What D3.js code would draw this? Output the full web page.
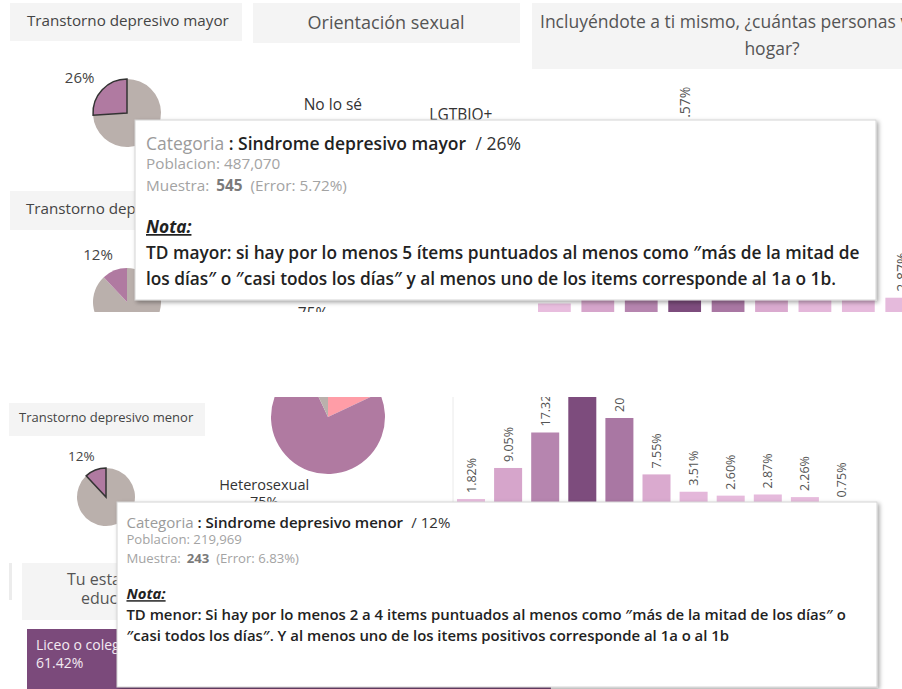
<!DOCTYPE html>
<html>
<head>
<meta charset="utf-8">
<script src="https://cdn.jsdelivr.net/npm/d3@7"></script>
<style>
  body { margin: 0; background: #fff; }
  svg { display: block; font-family: "Open Sans", Lato, sans-serif; }
</style>
</head>
<body>
<svg id="chart" width="902" height="689"></svg>
<script>
// household size distribution (bar chart, % of respondents)
const householdSizes = ["1", "2", "3", "4", "5", "6", "7", "8", "9", "10", "11+"];
const householdPct = [1.82, 9.05, 17.32, 31.57, 20.70, 7.55, 3.51, 2.60, 2.87, 2.26, 0.75];

// sexual orientation pie
const orientationCats = ["LGTBIQ+", "Heterosexual", "No lo sé"];
const orientationPct = [18, 75, 7];

// depressive disorder pies
const depressionCats = ["Transtorno depresivo mayor", "Transtorno depresivo menor"];
const depressionPct = [26, 12];

// education treemap (only the first cell shows)
const educationCats = ["Liceo o colegio"];
const educationPct = [61.42];

// tooltip texts
const tipMayor = {
  cat: "Sindrome depresivo mayor", pct: "26%", pob: "487,070", n: "545", err: "5.72%",
  nota: [
    "TD mayor: si hay por lo menos 5 ítems puntuados al menos como ″más de la mitad de",
    "los días″ o ″casi todos los días″ y al menos uno de los items corresponde al 1a o 1b."
  ]
};
const tipMenor = {
  cat: "Sindrome depresivo menor", pct: "12%", pob: "219,969", n: "243", err: "6.83%",
  nota: [
    "TD menor: Si hay por lo menos 2 a 4 items puntuados al menos como ″más de la mitad de los días″ o",
    "″casi todos los días″. Y al menos uno de los items positivos corresponde al 1a o al 1b"
  ]
};

// colors (tableau-ish)
const gray = "#bab0ac";
const purple = "#b07aa1";
const pink = "#ff9da7";
const boxFill = "#f4f4f4";
const barColor = d3.scaleLinear().domain([0, 10, 32]).range(["#ecc3e3", "#d4a2c9", "#7b4a7b"]);

const svg = d3.select("#chart");
const defs = svg.append("defs");

// soft shadow for tooltips
const shadow = defs.append("filter").attr("id", "shadow")
  .attr("x", "-5%").attr("y", "-5%").attr("width", "115%").attr("height", "120%");
shadow.append("feDropShadow").attr("dx", 2).attr("dy", 2).attr("stdDeviation", 2)
  .attr("flood-color", "#000").attr("flood-opacity", 0.35);

// each screenshot crop gets its own clipped group
const makePanel = (id, x, y, w, h) => {
  defs.append("clipPath").attr("id", id).append("rect")
    .attr("x", x).attr("y", y).attr("width", w).attr("height", h);
  return svg.append("g").attr("clip-path", `url(#${id})`);
};

const titleBox = (g, x, y, w, h) =>
  g.append("rect").attr("x", x).attr("y", y).attr("width", w).attr("height", h).attr("fill", boxFill);

const label = (g, txt, x, y, size, opts = {}) =>
  g.append("text").attr("x", x).attr("y", y).attr("font-size", size)
    .attr("fill", opts.fill || "#555").attr("text-anchor", opts.anchor || "start")
    .attr("font-weight", opts.weight || 400).text(txt);

// depression pie: grey remainder then highlighted slice ending at 12 o'clock
const depressionPie = (g, cx, cy, r, pct, outlined, fontSize) => {
  const arcs = d3.pie().sort(null)([100 - pct, pct]);
  const arc = d3.arc().innerRadius(0).outerRadius(r);
  const pg = g.append("g").attr("transform", `translate(${cx},${cy})`);
  pg.selectAll("path").data(arcs).enter().append("path")
    .attr("d", arc)
    .attr("fill", (d, i) => (i === 1 ? purple : gray))
    .attr("stroke", (d, i) => (i === 1 && outlined ? "#333" : "none"))
    .attr("stroke-width", 1.5);
  const mid = (arcs[1].startAngle + arcs[1].endAngle) / 2;
  const lx = Math.sin(mid) * r * 1.5 - r * 0.3;
  const ly = -Math.cos(mid) * r * 1.5 + fontSize * 0.35;
  label(pg, pct + "%", lx, ly, fontSize, { anchor: "middle", fill: "#444" });
};

// orientation pie with its labels
const orientationPie = (g, cx, cy, r, fontSize) => {
  const arcs = d3.pie().sort(null)(orientationPct);
  const arc = d3.arc().innerRadius(0).outerRadius(r);
  const pg = g.append("g").attr("transform", `translate(${cx},${cy})`);
  pg.selectAll("path").data(arcs).enter().append("path")
    .attr("d", arc)
    .attr("fill", (d, i) => [pink, purple, gray][i]);
  label(pg, orientationCats[2], -0.82 * r, -1.6 * r, fontSize, { anchor: "middle", fill: "#333" });
  label(pg, orientationCats[0], 1.12 * r, -1.46 * r, fontSize, { anchor: "middle", fill: "#333" });
  label(pg, orientationCats[1], -1.12 * r, 1.28 * r, fontSize, { anchor: "middle", fill: "#333" });
  label(pg, orientationPct[1] + "%", -1.12 * r, 1.28 * r + fontSize * 1.2, fontSize, { anchor: "middle", fill: "#333" });
};

// household bars with rotated value labels
const householdBars = (g, x0, x1, base, pxPerPct, fontSize) => {
  const x = d3.scaleBand().domain(householdSizes).range([x0, x1]).paddingInner(0.245);
  const y = d3.scaleLinear().domain([0, 35]).range([base, base - 35 * pxPerPct]);
  g.selectAll(null).data(householdPct).enter().append("rect")
    .attr("x", (d, i) => x(householdSizes[i]))
    .attr("y", d => y(d))
    .attr("width", x.bandwidth())
    .attr("height", d => base - y(d))
    .attr("fill", d => barColor(d));
  g.selectAll(null).data(householdPct).enter().append("text")
    .attr("transform", (d, i) =>
      `translate(${x(householdSizes[i]) + x.bandwidth() / 2 + fontSize * 0.36},${y(d) - 6}) rotate(-90)`)
    .attr("font-size", fontSize).attr("fill", "#555")
    .text(d => d.toFixed(2) + "%");
};

// tableau style tooltip; s scales the header, body/gap set the note text
const tooltip = (g, x, y, w, h, t, s, body, gap) => {
  g.append("rect").attr("x", x).attr("y", y).attr("width", w).attr("height", h)
    .attr("fill", "#fff").attr("stroke", "#d4d4d4").attr("filter", "url(#shadow)");
  const tx = x + 11 * s;
  const l1 = g.append("text").attr("x", tx).attr("y", y + 30 * s).attr("font-size", 17.5 * s);
  l1.append("tspan").attr("fill", "#9b9b9b").text("Categoria");
  l1.append("tspan").attr("fill", "#222").attr("font-weight", 600).text(" : " + t.cat);
  l1.append("tspan").attr("fill", "#333").attr("dx", 5 * s).text(" / " + t.pct);
  label(g, "Poblacion: " + t.pob, tx, y + 49 * s, 15.3 * s, { fill: "#a3a3a3" });
  const l3 = g.append("text").attr("x", tx).attr("y", y + 71 * s).attr("font-size", 15.3 * s).attr("fill", "#a3a3a3");
  l3.append("tspan").text("Muestra: ");
  l3.append("tspan").attr("dx", 3 * s).attr("font-weight", 700).attr("fill", "#7a7a7a").text(t.n);
  l3.append("tspan").attr("dx", 4 * s).text(" (Error: " + t.err + ")");
  const notaY = y + 113 * s;
  g.append("text").attr("x", tx).attr("y", notaY).attr("font-size", body)
    .attr("font-weight", 700).attr("font-style", "italic").attr("text-decoration", "underline")
    .attr("fill", "#222").text("Nota:");
  t.nota.forEach((line, i) => {
    label(g, line, tx, notaY + gap * (i + 1), body, { fill: "#222", weight: 600 });
  });
};

// ---------- top crop ----------
const topG = makePanel("clipTop", 0, 0, 902, 312);
titleBox(topG, 10, 3, 232, 38);
label(topG, depressionCats[0], 27, 26, 15.2, { fill: "#444" });
titleBox(topG, 253, 3, 267, 40);
label(topG, "Orientación sexual", 386, 29, 18, { anchor: "middle" });
titleBox(topG, 532, 3, 380, 66);
label(topG, "Incluyéndote a ti mismo, ¿cuántas personas viven en tu", 540, 28, 17.5);
label(topG, "hogar?", 772, 55, 17.5, { anchor: "middle" });
depressionPie(topG, 127, 113, 34, depressionPct[0], true, 15);
titleBox(topG, 10, 191, 232, 39);
label(topG, depressionCats[1], 26, 214, 15.2, { fill: "#444" });
depressionPie(topG, 127, 302, 34, depressionPct[1], false, 15);
orientationPie(topG, 387, 216, 66, 15.5);
householdBars(topG, 538, 1005, 313.5, 5.5, 14);
tooltip(topG, 135, 120, 741, 180, tipMayor, 1, 17.3, 26);

// ---------- bottom crop ----------
const botG = makePanel("clipBot", 0, 397, 902, 292);
orientationPie(botG, 328, 417, 57, 14.5);
titleBox(botG, 9, 403, 196, 33);
label(botG, depressionCats[1], 19, 422, 13, { fill: "#444" });
depressionPie(botG, 106, 497, 29, depressionPct[1], true, 13.5);
botG.append("line").attr("x1", 453).attr("x2", 453).attr("y1", 397).attr("y2", 507)
  .attr("stroke", "#eaeaea");
householdBars(botG, 457, 856, 506.8, 4.29, 12.5);
botG.append("rect").attr("x", 9).attr("y", 563).attr("width", 3).attr("height", 37).attr("fill", "#ececec");
titleBox(botG, 22, 563, 300, 57);
label(botG, "Tu establecimiento", 67, 585, 16);
label(botG, "educacional", 81, 604, 16);
const eduX = d3.scaleLinear().domain([0, 100]).range([27, 880]);
botG.selectAll(null).data(educationPct).enter().append("rect")
  .attr("x", eduX(0)).attr("y", 629).attr("width", d => eduX(d) - eduX(0)).attr("height", 60)
  .attr("fill", "#7b4a7b");
label(botG, educationCats[0], 36, 650, 14, { fill: "#f3eaf2" });
label(botG, educationPct[0].toFixed(2) + "%", 36, 668, 14, { fill: "#f3eaf2" });
tooltip(botG, 117, 502, 760, 185, tipMenor, 0.86, 14.9, 21);
</script>
</body>
</html>
